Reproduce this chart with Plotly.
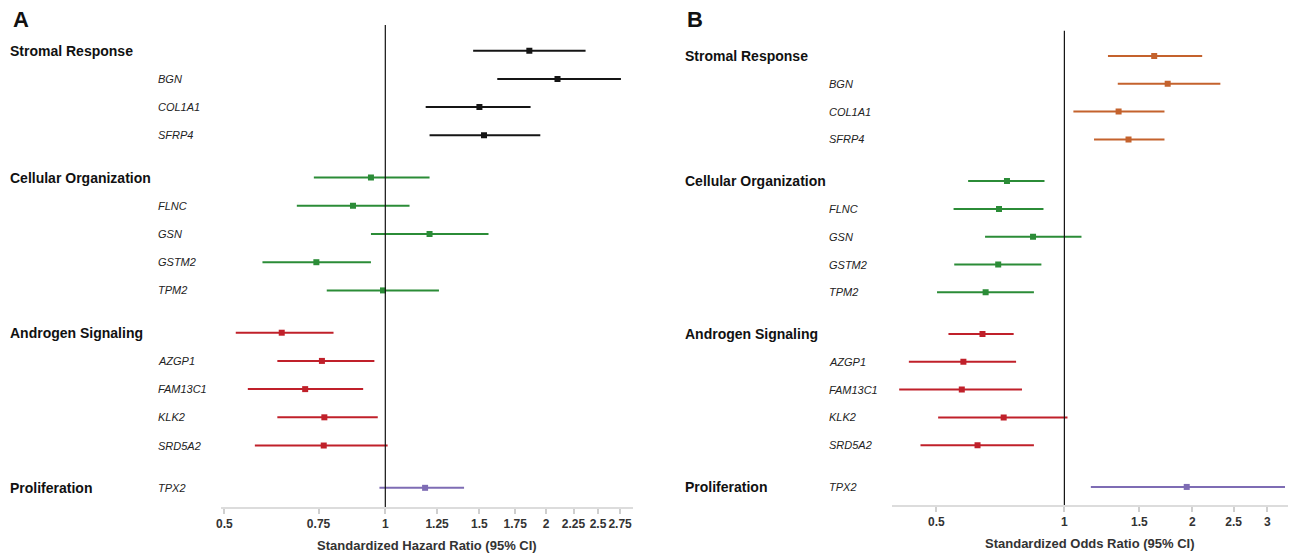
import plotly.graph_objects as go
import math

W, H = 1290, 554

# ---------------- data ----------------
groups = ["Stromal Response", "Cellular Organization", "Androgen Signaling", "Proliferation"]
genes = [["BGN", "COL1A1", "SFRP4"],
         ["FLNC", "GSN", "GSTM2", "TPM2"],
         ["AZGP1", "FAM13C1", "KLK2", "SRD5A2"],
         ["TPX2"]]

# rows: group summary followed by its genes (Proliferation has only TPX2)
hr_est = [1.86, 2.10, 1.50, 1.53, 0.94, 0.87, 1.21, 0.743, 0.99, 0.64, 0.761, 0.708, 0.769, 0.767, 1.187]
hr_lo  = [1.46, 1.62, 1.19, 1.21, 0.735, 0.683, 0.94, 0.589, 0.777, 0.525, 0.628, 0.553, 0.628, 0.570, 0.975]
hr_hi  = [2.37, 2.76, 1.87, 1.95, 1.21, 1.11, 1.56, 0.94, 1.26, 0.80, 0.954, 0.909, 0.968, 1.01, 1.404]

or_est = [1.626, 1.749, 1.341, 1.415, 0.733, 0.702, 0.844, 0.699, 0.653, 0.642, 0.579, 0.574, 0.720, 0.625, 1.939]
or_lo  = [1.266, 1.335, 1.050, 1.174, 0.594, 0.549, 0.651, 0.551, 0.502, 0.534, 0.431, 0.409, 0.505, 0.459, 1.154]
or_hi  = [2.108, 2.326, 1.719, 1.719, 0.898, 0.893, 1.097, 0.883, 0.848, 0.760, 0.770, 0.795, 1.017, 0.848, 3.30]

hr_ticks = [0.5, 0.75, 1, 1.25, 1.5, 1.75, 2, 2.25, 2.5, 2.75]
or_ticks = [0.5, 1, 1.5, 2, 2.5, 3]

colors_A = ["#151515", "#2b8c37", "#c0202a", "#7e6cb4"]
colors_B = ["#c4622d", "#2b8c37", "#c0202a", "#7e6cb4"]

# ---------------- row positions ----------------
rows = []  # (group index, label, position, is_header)
pos = 0.0
for gi, (g, gl) in enumerate(zip(groups, genes)):
    if len(gl) > 1:
        rows.append((gi, g, pos, True))
        for k, gname in enumerate(gl):
            rows.append((gi, gname, pos + k + 1, False))
        pos += len(gl) + 1 + 0.5
    else:
        rows.append((gi, gl[0], pos, False))
        pos += 1.5
header_pos = []
for gi in range(len(groups)):
    ps = [r[2] for r in rows if r[0] == gi]
    header_pos.append(min(ps))

fig = go.Figure()

def px_x(x):
    return x / W

def px_y(y):
    return 1 - y / H

panels = [
    dict(est=hr_est, lo=hr_lo, hi=hr_hi, colors=colors_A, xa="x", ya="y",
         xdom=[px_x(216.5), px_x(630.5)], ydom=[px_y(507), px_y(25)],
         xrange=[-0.3081, 0.4636], yrange=[16.18, -0.911],
         ticks=hr_ticks, title="Standardized Hazard Ratio (95% CI)",
         grp_x=3, gene_x=152, letter="A", letter_x=6),
    dict(est=or_est, lo=or_lo, hi=or_hi, colors=colors_B, xa="x2", ya="y2",
         xdom=[px_x(890), px_x(1288)], ydom=[px_y(505), px_y(30.7)],
         xrange=[-0.4062, 0.5256], yrange=[16.15, -0.91],
         ticks=or_ticks, title="Standardized Odds Ratio (95% CI)",
         grp_x=681, gene_x=825, letter="B", letter_x=683),
]

annotations = []
shapes = []
for p in panels:
    for gi in range(len(groups)):
        idx = [i for i, r in enumerate(rows) if r[0] == gi]
        xs = [p["est"][i] for i in idx]
        ys = [rows[i][2] for i in idx]
        plus = [p["hi"][i] - p["est"][i] for i in idx]
        minus = [p["est"][i] - p["lo"][i] for i in idx]
        fig.add_trace(go.Scatter(
            x=xs, y=ys, mode="markers", xaxis=p["xa"], yaxis=p["ya"],
            marker=dict(symbol="square", size=6, color=p["colors"][gi]),
            error_x=dict(type="data", array=plus, arrayminus=minus, symmetric=False,
                         color=p["colors"][gi], thickness=2, width=0),
            showlegend=False, hoverinfo="skip"))
    for gi, g in enumerate(groups):
        annotations.append(dict(text="<b>%s</b>" % g, x=px_x(p["grp_x"]), xref="paper",
                                y=header_pos[gi], yref=p["ya"], xanchor="left", yanchor="middle",
                                showarrow=False, font=dict(family="Liberation Sans", size=14, color="#111")))
    for r in rows:
        if not r[3]:
            annotations.append(dict(text="<i>%s</i>" % r[1], x=px_x(p["gene_x"]), xref="paper",
                                    y=r[2], yref=p["ya"], xanchor="left", yanchor="middle",
                                    showarrow=False, font=dict(family="Liberation Sans", size=11, color="#222")))
    annotations.append(dict(text="<b>%s</b>" % p["letter"], x=px_x(p["letter_x"]), xref="paper",
                            y=px_y(19), yref="paper", xanchor="left", yanchor="middle",
                            showarrow=False, font=dict(family="Liberation Sans", size=22, color="#111")))
    shapes.append(dict(type="line", xref=p["xa"], yref=p["ya"] + " domain", x0=1, x1=1, y0=0, y1=1,
                       line=dict(color="#111", width=1.2)))

axis_common = dict(type="log", showgrid=False, zeroline=False, showline=True,
                   linecolor="#dcdcdc", linewidth=2, ticks="outside", tickcolor="#cfcfcf",
                   ticklen=5, tickwidth=1.5, tickangle=0,
                   tickfont=dict(family="Liberation Sans", size=12, color="#333", weight="bold"))
yaxis_common = dict(showgrid=False, zeroline=False, showline=False, showticklabels=False, ticks="")
title_font = dict(family="Liberation Sans", size=13, color="#333", weight="bold")

fig.update_layout(
    width=W, height=H, margin=dict(l=0, r=0, t=0, b=0),
    paper_bgcolor="white", plot_bgcolor="white",
    xaxis=dict(domain=panels[0]["xdom"], range=panels[0]["xrange"], anchor="y",
               tickvals=hr_ticks, ticktext=[str(t) for t in hr_ticks],
               title=dict(text=panels[0]["title"], standoff=10, font=title_font),
               **axis_common),
    yaxis=dict(domain=panels[0]["ydom"], range=panels[0]["yrange"], anchor="x", **yaxis_common),
    xaxis2=dict(domain=panels[1]["xdom"], range=panels[1]["xrange"], anchor="y2",
                tickvals=or_ticks, ticktext=[str(t) for t in or_ticks],
                title=dict(text=panels[1]["title"], standoff=10, font=title_font),
                **axis_common),
    yaxis2=dict(domain=panels[1]["ydom"], range=panels[1]["yrange"], anchor="x2", **yaxis_common),
    annotations=annotations, shapes=shapes,
)

fig.write_html("out.html", config={"displayModeBar": False},
               post_script="document.body.style.margin='0';document.body.style.overflow='hidden';")
